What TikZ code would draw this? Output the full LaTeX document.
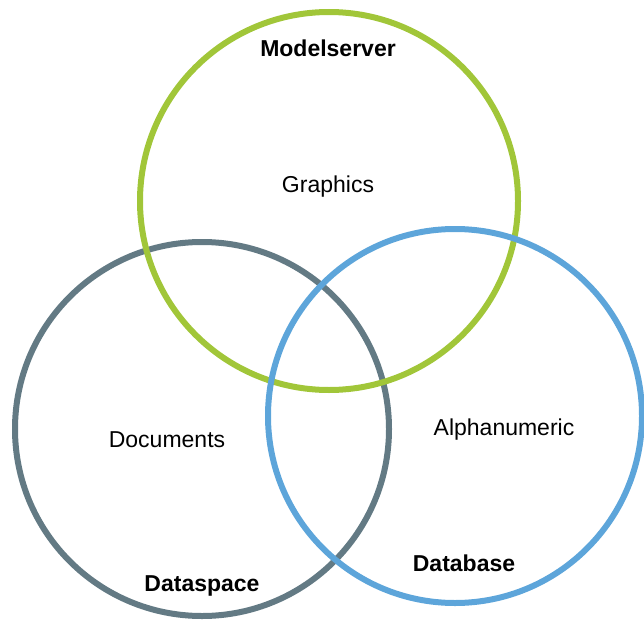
\documentclass[tikz,border=0pt]{standalone}
\usepackage{fontspec}
\setmainfont{Liberation Sans}
\definecolor{vgreen}{RGB}{161,198,57}
\definecolor{vgrey}{RGB}{99,122,132}
\definecolor{vblue}{RGB}{93,165,218}
\begin{document}
\begin{tikzpicture}[x=1pt,y=-1pt,
  ring/.style={circle,draw,line width=6pt,inner sep=0pt,minimum size=#1},
  lbl/.style={anchor=base,inner sep=0pt,font=\fontsize{23}{27}\selectfont},
  ttl/.style={anchor=base,inner sep=0pt,font=\fontsize{23}{27}\selectfont\bfseries}]
\useasboundingbox (0,0) rectangle (644,623);
\node[ring=374pt,draw=vgrey] (dataspace) at (202,429) {};
\node[ring=378pt,draw=vgreen] (modelserver) at (329,201) {};
\node[ring=374pt,draw=vblue] (database) at (455,416) {};
\node[ttl] (t1) at (328,57) {Modelserver};
\node[lbl] (l1) at (328,192) {Graphics};
\node[lbl] (l2) at (167,447) {Documents};
\node[ttl] (t2) at (202,591) {Dataspace};
\node[lbl] (l3) at (504,435) {Alphanumeric};
\node[ttl] (t3) at (464,571) {Database};
\end{tikzpicture}
\end{document}
